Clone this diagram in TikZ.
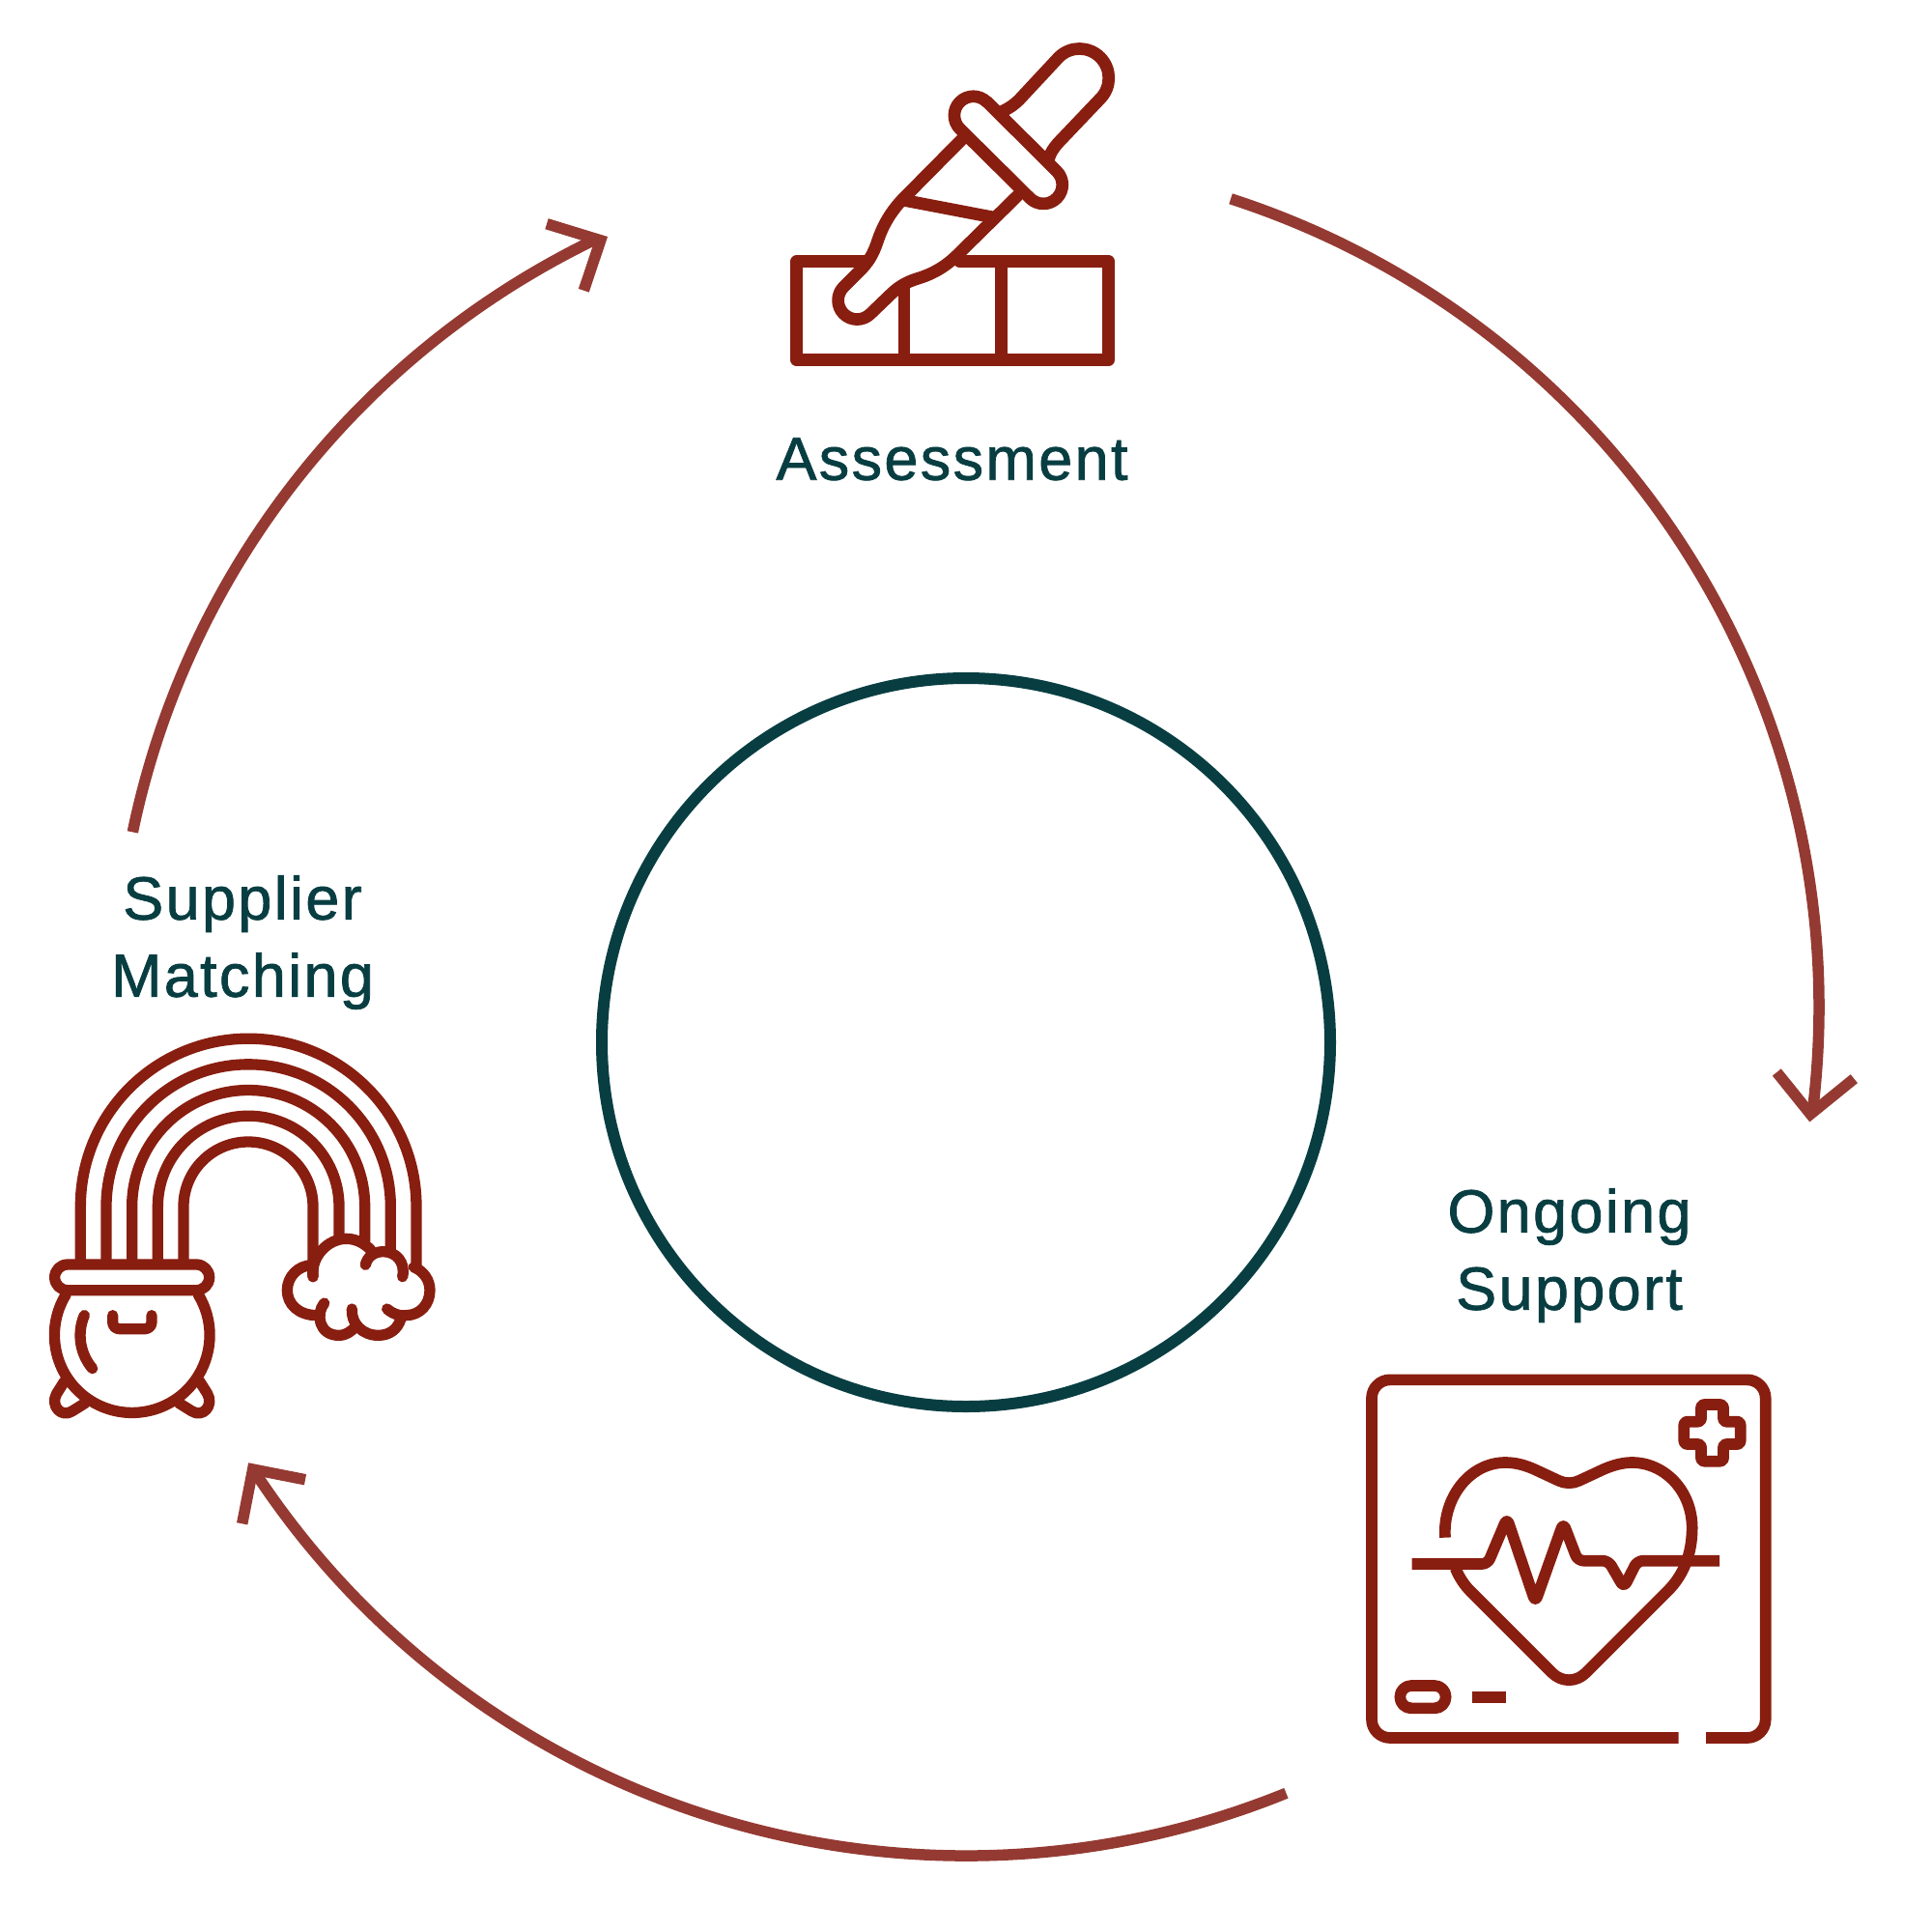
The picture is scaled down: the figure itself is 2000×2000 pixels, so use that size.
\documentclass[tikz,border=0pt]{standalone}
\usepackage{fontspec}
\setmainfont[LetterSpace=3.7,FakeBold=1.2]{Liberation Sans}
\definecolor{iconred}{HTML}{881E10}
\definecolor{arcred}{HTML}{943A32}
\definecolor{tealdark}{HTML}{083E42}
\tikzset{
  lbl/.style={text=tealdark,font=\fontsize{63}{80}\selectfont,align=center,inner sep=0pt,outer sep=0pt},
  cyclearc/.style={draw=arcred,line width=11.5pt,line cap=butt},
  arrowbarb/.style={draw=arcred,line width=11.5pt,line join=miter,miter limit=10},
  dropper/.style={draw=iconred,line width=12.7pt,line join=round,line cap=round},
  rainbow/.style={draw=iconred,line width=11.3pt,line join=round,line cap=round},
  monitor/.style={draw=iconred,line width=11.7pt,line join=round,line cap=butt},
}
\begin{document}
\begin{tikzpicture}[x=1pt,y=-1pt]
\useasboundingbox (0,0) rectangle (2000,2000);
\fill[white] (0,0) rectangle (2000,2000);

% central circle
\node[circle,draw=tealdark,line width=12pt,minimum size=754pt,inner sep=0pt,outer sep=0pt] (hub) at (1000,1079) {};

% labels
\node[lbl,anchor=base] (assess) at (985.5,496.7) {Assessment};
\node[lbl,anchor=center] (supplier) at (251,975.5) {Supplier\\Matching};
\node[lbl,anchor=center] (ongoing) at (1624.5,1299.5) {Ongoing\\Support};

% cycle arcs
\coordinate (arcc) at (1000,1040);
\coordinate (arcr) at (1003,1043);
\coordinate (s1) at ([shift={(72.06:880pt)}]arcr);
\coordinate (s2) at ([shift={(-67.9:881pt)}]arcc);
\coordinate (s3) at ([shift={(168.3:881pt)}]arcc);
\coordinate (tip1) at (1874.2,1153.3);
\coordinate (b1a) at (1839.3,1110);
\coordinate (b1b) at (1919.3,1116.7);
\coordinate (tip2) at (261.7,1521);
\coordinate (b2a) at (316,1531.7);
\coordinate (b2b) at (250.7,1577.3);
\coordinate (tip3) at (621.7,248.8);
\coordinate (b3a) at (566,231.7);
\coordinate (b3b) at (604.3,300.7);
\draw[cyclearc] (s1) arc[start angle=72.06,end angle=-7.2,radius=880pt];
\draw[cyclearc] (s2) arc[start angle=-67.9,end angle=-146.9,radius=881pt];
\draw[cyclearc] (s3) arc[start angle=168.3,end angle=115.6,radius=879pt];
\draw[arrowbarb] (b1a) -- (tip1) -- (b1b);
\draw[arrowbarb] (b2a) -- (tip2) -- (b2b);
\draw[arrowbarb] (b3a) -- (tip3) -- (b3b);

% Assessment icon: dropper over a brick row
\begin{scope}[shift={(780,20)},scale=1/3]
  \draw[dropper] (345,752) -- (134,752) -- (134,1058) -- (1103,1058) -- (1103,752) -- (640,752);
  \draw[dropper] (468,1058) -- (468,838);
  \draw[dropper] (770,752) -- (770,1058);
  % bulb
  \draw[dropper] (775,285) .. controls (795,275) and (810,265) .. (825,250) -- (948,118)
     arc[start angle=135,end angle=-45,radius=91pt]
     -- (945,385) .. controls (932,400) and (922,415) .. (918,430);
  % collar
  \draw[dropper] (725,256) -- (942,472) arc[start angle=45,end angle=-135,radius=59pt]
     -- (641,340) arc[start angle=225,end angle=45,radius=59pt] -- cycle;
  % body
  \draw[dropper] (648,372) -- (462,560) .. controls (420,605) and (398,650) .. (385,690)
     .. controls (372,730) and (355,757) .. (330,781) -- (280,831)
     arc[start angle=135,end angle=315,radius=59pt] -- (420,860)
     .. controls (445,835) and (470,817) .. (510,805)
     .. controls (560,790) and (600,765) .. (635,730) -- (819,549);
  \draw[dropper] (468,562) -- (745,615);
\end{scope}

% Supplier Matching icon: rainbow, pot and cloud
\begin{scope}[shift={(30,1050)},scale=1/3]
  \draw[rainbow] (160,775) -- (160,597) arc[start angle=180,end angle=0,radius=521.5pt] -- (1203,780);
  \draw[rainbow] (240,775) -- (240,597) arc[start angle=180,end angle=0,radius=441.5pt] -- (1123,730);
  \draw[rainbow] (320,775) -- (320,597) arc[start angle=180,end angle=0,radius=361.5pt] -- (1043,705);
  \draw[rainbow] (400,775) -- (400,597) arc[start angle=180,end angle=0,radius=281.5pt] -- (963,690);
  \draw[rainbow] (480,775) -- (480,597) arc[start angle=180,end angle=0,radius=201pt] -- (882,815);
  % pot
  \draw[rainbow,rounded corners=13.3pt] (80,777) rectangle (560,857);
  \draw[rainbow] (115,870) arc[start angle=148.4,end angle=391.6,radius=241pt];
  \draw[rainbow] (110,1140) -- (86,1178) .. controls (65,1215) and (100,1255) .. (135,1232) -- (175,1207);
  \draw[rainbow] (530,1140) -- (554,1178) .. controls (575,1215) and (540,1255) .. (505,1232) -- (465,1207);
  \draw[rainbow,rounded corners=7pt] (260,935) -- (260,977) -- (381,977) -- (381,935);
  \draw[rainbow] (172,935) .. controls (150,985) and (155,1050) .. (197,1100);
  % cloud
  \draw[rainbow] (882,815) .. controls (875,750) and (930,697) .. (985,697) .. controls (1015,697) and (1040,710) .. (1062,732);
  \draw[rainbow] (880,779) .. controls (837,779) and (802,814) .. (802,857) .. controls (802,900) and (837,935) .. (895,935);
  \draw[rainbow] (917,897) .. controls (890,930) and (900,997) .. (962,997) .. controls (985,997) and (1000,985) .. (1012,972);
  \draw[rainbow] (1003,915) .. controls (1000,960) and (1035,997) .. (1085,997) .. controls (1120,997) and (1145,978) .. (1155,945);
  \draw[rainbow] (1112,915) .. controls (1135,935) and (1160,937) .. (1170,935) .. controls (1215,935) and (1245,900) .. (1245,857) .. controls (1245,825) and (1225,797) .. (1195,785);
  \draw[rainbow] (1160,815) .. controls (1170,770) and (1140,737) .. (1100,737) .. controls (1070,737) and (1050,755) .. (1045,778);
\end{scope}

% Ongoing Support icon: monitor with heart
\begin{scope}[shift={(1400,1410)},scale=1/3]
  \draw[monitor,rounded corners=19pt] (1013,1167) -- (60,1167) -- (60,55) -- (1283,55) -- (1283,1167) -- (1098,1167);
  \draw[monitor,rounded corners=3pt] (1083,132) -- (1152,132) -- (1152,185) -- (1205,185) -- (1205,255) -- (1152,255) -- (1152,308) -- (1083,308) -- (1083,255) -- (1030,255) -- (1030,185) -- (1083,185) -- cycle;
  \draw[monitor] (288,545) .. controls (280,420) and (365,312) .. (475,312) .. controls (510,312) and (540,322) .. (565,333)
     -- (640,368) .. controls (660,378) and (685,378) .. (705,368) -- (780,333)
     .. controls (810,320) and (840,312) .. (868,312) .. controls (970,312) and (1055,400) .. (1055,515)
     .. controls (1055,600) and (1025,665) .. (980,710) -- (725,965) .. controls (695,995) and (650,995) .. (620,965)
     -- (365,710) .. controls (350,695) and (332,670) .. (320,640);
  \draw[monitor,rounded corners=6pt] (185,627) -- (420,627) -- (480,485) -- (568,745) -- (655,500) -- (700,617) -- (795,617) -- (843,700) -- (885,617) -- (1140,617);
  \draw[monitor,rounded corners=11.6pt] (148,1005) rectangle (290,1075);
  \draw[monitor] (372,1040) -- (477,1040);
\end{scope}
\end{tikzpicture}
\end{document}
